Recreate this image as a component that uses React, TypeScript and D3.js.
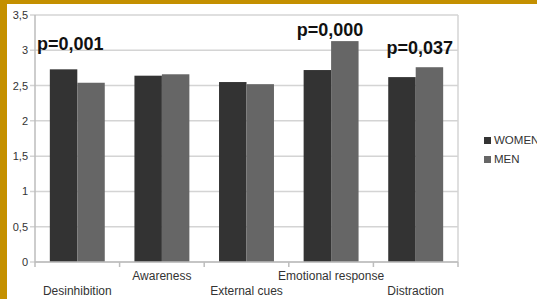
import { useRef, useEffect } from 'react';
import * as d3 from 'd3';

const categories = ['Desinhibition', 'Awareness', 'External cues', 'Emotional response', 'Distraction'];
const women = [2.73, 2.64, 2.55, 2.72, 2.62];
const men = [2.54, 2.66, 2.52, 3.13, 2.76];
const series = ['WOMEN', 'MEN'];
const pValues = [
  { index: 0, label: 'p=0,001', value: 3.0 },
  { index: 3, label: 'p=0,000', value: 3.2 },
  { index: 4, label: 'p=0,037', value: 2.95 },
];
const yTicks = [0, 0.5, 1, 1.5, 2, 2.5, 3, 3.5];

export default function App() {
  const svgRef = useRef<SVGSVGElement>(null);

  useEffect(() => {
    const width = 537;
    const height = 299;
    const margin = { top: 15, right: 79, bottom: 37, left: 35 };
    const font = '"Liberation Sans", Arial, sans-serif';
    // small horizontal nudges for the p-value labels, as placed in the original
    const nudge = [-7, 0, 0, -1, 4];

    const svg = d3.select(svgRef.current)
      .attr('width', width)
      .attr('height', height);
    svg.selectAll('*').remove();

    svg.append('rect').attr('width', width).attr('height', height).attr('fill', '#fff');
    // gold frame at top and left
    svg.append('rect').attr('width', width).attr('height', 4).attr('fill', '#c49000');
    svg.append('rect').attr('width', 7).attr('height', height).attr('fill', '#c49000');

    const x = d3.scaleBand()
      .domain(categories)
      .range([margin.left, width - margin.right])
      .paddingInner(0)
      .paddingOuter(0);

    const x1 = d3.scaleBand()
      .domain(series)
      .range([0, x.bandwidth()])
      .paddingInner(0)
      .paddingOuter(0.54);

    const y = d3.scaleLinear()
      .domain([0, 3.5])
      .range([height - margin.bottom, margin.top]);

    const color = d3.scaleOrdinal<string, string>()
      .domain(series)
      .range(['#333333', '#666666']);

    // gridlines
    svg.append('g')
      .selectAll('line')
      .data(yTicks)
      .enter()
      .append('line')
      .attr('x1', margin.left - 5)
      .attr('x2', width - margin.right)
      .attr('y1', d => y(d))
      .attr('y2', d => y(d))
      .attr('stroke', '#d4d4d4')
      .attr('stroke-width', 1.5);

    // right border
    svg.append('line')
      .attr('x1', width - margin.right).attr('x2', width - margin.right)
      .attr('y1', y(3.5)).attr('y2', y(0))
      .attr('stroke', '#d4d4d4').attr('stroke-width', 1.5);

    // bars
    const groups = svg.append('g')
      .selectAll('g')
      .data(categories)
      .enter()
      .append('g')
      .attr('transform', d => `translate(${x(d)},0)`);

    groups.selectAll('rect')
      .data((d, i) => [
        { key: 'WOMEN', value: women[i] },
        { key: 'MEN', value: men[i] },
      ])
      .enter()
      .append('rect')
      .attr('x', d => x1(d.key)!)
      .attr('y', d => y(d.value))
      .attr('width', x1.bandwidth())
      .attr('height', d => y(0) - y(d.value))
      .attr('fill', d => color(d.key));

    // y axis line + labels
    svg.append('line')
      .attr('x1', margin.left).attr('x2', margin.left)
      .attr('y1', y(3.5)).attr('y2', y(0))
      .attr('stroke', '#bdbdbd').attr('stroke-width', 1.5);

    svg.append('g')
      .selectAll('text')
      .data(yTicks)
      .enter()
      .append('text')
      .attr('x', margin.left - 7)
      .attr('y', d => y(d) + 4)
      .attr('text-anchor', 'end')
      .attr('font-family', font)
      .attr('font-size', 11)
      .attr('fill', '#333')
      .text(d => String(d).replace('.', ','));

    // x axis
    svg.append('line')
      .attr('x1', margin.left).attr('x2', width - margin.right)
      .attr('y1', y(0)).attr('y2', y(0))
      .attr('stroke', '#bdbdbd').attr('stroke-width', 1.5);

    const xTicks = categories.map(c => x(c)!).concat([width - margin.right]);
    svg.append('g')
      .selectAll('line')
      .data(xTicks)
      .enter()
      .append('line')
      .attr('x1', d => d).attr('x2', d => d)
      .attr('y1', y(0)).attr('y2', y(0) + 5)
      .attr('stroke', '#bdbdbd').attr('stroke-width', 1.5);

    svg.append('g')
      .selectAll('text')
      .data(categories)
      .enter()
      .append('text')
      .attr('x', d => x(d)! + x.bandwidth() / 2)
      .attr('y', (d, i) => (i % 2 === 0 ? 295 : 280))
      .attr('text-anchor', 'middle')
      .attr('font-family', font)
      .attr('font-size', 12)
      .attr('fill', '#333')
      .text(d => d);

    // p-value annotations
    svg.append('g')
      .selectAll('text')
      .data(pValues)
      .enter()
      .append('text')
      .attr('x', d => x(categories[d.index])! + x.bandwidth() / 2 + nudge[d.index])
      .attr('y', d => y(d.value))
      .attr('text-anchor', 'middle')
      .attr('font-family', font)
      .attr('font-weight', 'bold')
      .attr('font-size', 18)
      .attr('fill', '#111')
      .text(d => d.label);

    // legend
    const legend = svg.append('g')
      .selectAll('g')
      .data(series)
      .enter()
      .append('g')
      .attr('transform', (d, i) => `translate(484,${137 + i * 19})`);

    legend.append('rect')
      .attr('width', 7)
      .attr('height', 7)
      .attr('fill', d => color(d));

    legend.append('text')
      .attr('x', 10)
      .attr('y', 7)
      .attr('font-family', font)
      .attr('font-size', 11.5)
      .attr('fill', '#333')
      .text(d => d);
  }, []);

  return (
    <svg ref={svgRef} style={{ position: 'absolute', left: 0, top: 0, display: 'block' }} />
  );
}
